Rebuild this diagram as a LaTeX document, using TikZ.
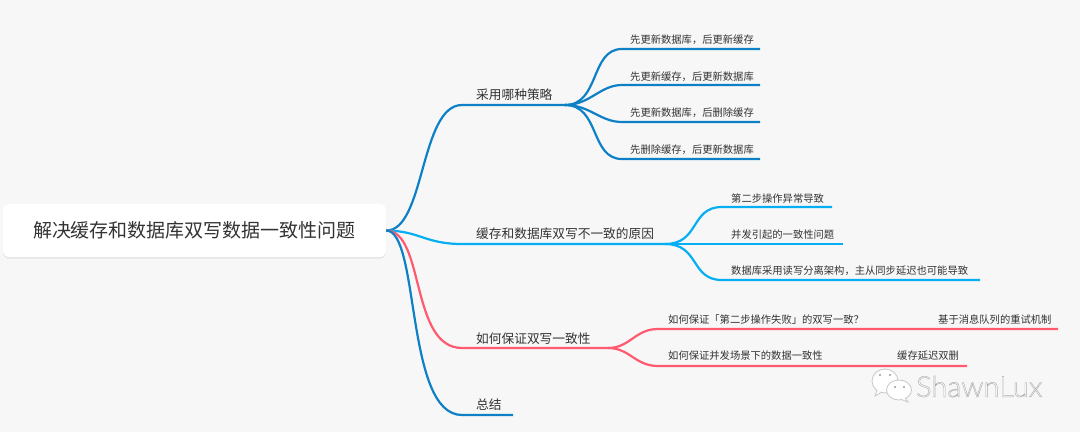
\documentclass[tikz,border=0pt]{standalone}
\usepackage{fontspec}
\setmainfont{Noto Sans CJK SC}
\newfontfamily\markfont{Lato Light}
\usetikzlibrary{shadows}
\definecolor{pagebg}{HTML}{F7F7F7}
\definecolor{inkgray}{HTML}{333333}
\definecolor{deepblue}{HTML}{0E80C6}
\definecolor{skyblue}{HTML}{06AEF2}
\definecolor{rosered}{HTML}{FF5A70}
\newcommand{\outlined}[1]{\special{pdf:code 2 Tr 0.45 w 0.68 G}#1\special{pdf:code 0 Tr}}
\tikzset{
    topic/.style={inner sep=0pt,anchor=west,text=inkgray,font=\fontsize{12.7}{14}\selectfont},
    leaf/.style={inner sep=0pt,anchor=west,text=inkgray,font=\fontsize{10.3}{12}\selectfont},
    bluewire/.style={draw=deepblue,line width=2.2pt},
    skywire/.style={draw=skyblue,line width=2.2pt},
    redwire/.style={draw=rosered,line width=2.2pt},
    bubble/.style={fill=white,draw=black!22,line width=0.8pt},
    eye/.style={fill=black!40},
}
\begin{document}
\begin{tikzpicture}[x=1pt,y=-1pt]
        \useasboundingbox (0,0) rectangle (1080,432);
        \fill[pagebg] (0,0) rectangle (1080,432);
        \node[fill=white,rounded corners=6pt,inner sep=0pt,minimum width=383pt,minimum height=53pt,
            drop shadow={shadow xshift=0pt,shadow yshift=-1.5pt,opacity=.08,fill=black},
            text=inkgray,font=\fontsize{19}{22}\selectfont] (root) at (194.5,230.5) {\raisebox{-1.5pt}{解决缓存和数据库双写数据一致性问题}};

        \coordinate(A) at (462,105);
        \coordinate(AE) at (565,105);
        \coordinate(A1) at (622,49);
        \coordinate(A1E) at (760,49);
        \coordinate(A2) at (622,85);
        \coordinate(A2E) at (760,85);
        \coordinate(A3) at (622,122);
        \coordinate(A3E) at (760,122);
        \coordinate(A4) at (622,159);
        \coordinate(A4E) at (760,159);
        \coordinate(B) at (462,244);
        \coordinate(BE) at (665,244);
        \coordinate(B1) at (722,207);
        \coordinate(B1E) at (832,207);
        \coordinate(B2E) at (843,244);
        \coordinate(B3) at (722,280);
        \coordinate(B3E) at (980,280);
        \coordinate(C) at (462,348);
        \coordinate(CE) at (608,348);
        \coordinate(C1) at (658,329);
        \coordinate(C1E) at (1058,329);
        \coordinate(C2) at (658,366);
        \coordinate(C2E) at (967,366);
        \coordinate(D) at (462,415);
        \coordinate(DE) at (513,415);

        \node[topic] (strategy) at (476,95) {采用哪种策略};
        \node[topic] (reason) at (476,234) {缓存和数据库双写不一致的原因};
        \node[topic] (ensure) at (476,338.5) {如何保证双写一致性};
        \node[topic] (summary) at (476,404.5) {总结};

        \node[leaf] (s1) at (630,39.5) {先更新数据库，后更新缓存};
        \node[leaf] (s2) at (630,76.5) {先更新缓存，后更新数据库};
        \node[leaf] (s3) at (630,112.5) {先更新数据库，后删除缓存};
        \node[leaf] (s4) at (630,149.5) {先删除缓存，后更新数据库};
        \node[leaf] (r1) at (731,198.5) {第二步操作异常导致};
        \node[leaf] (r2) at (731,234.5) {并发引起的一致性问题};
        \node[leaf] (r3) at (731,270.5) {数据库采用读写分离架构，主从同步延迟也可能导致};
        \node[leaf] (e1) at (668,319.5) {如何保证「第二步操作失败」的双写一致？};
        \node[leaf] (e2) at (668,355.5) {如何保证并发场景下的数据一致性};
        \node[leaf] (e1a) at (938,319.5) {基于消息队列的重试机制};
        \node[leaf] (e2a) at (897,355.5) {缓存延迟双删};

        \draw[bluewire] (root.east) .. controls (425,231) and (420,105) .. (A) -- (AE);
        \draw[bluewire] (AE) .. controls (600,105) and (590,49) .. (A1) -- (A1E);
        \draw[bluewire] (AE) .. controls (590,105) and (600,85) .. (A2) -- (A2E);
        \draw[bluewire] (AE) .. controls (590,105) and (600,122) .. (A3) -- (A3E);
        \draw[bluewire] (AE) .. controls (600,105) and (590,159) .. (A4) -- (A4E);

        \draw[skywire] (root.east) .. controls (420,231) and (425,244) .. (B) -- (BE);
        \draw[skywire] (BE) .. controls (700,244) and (690,207) .. (B1) -- (B1E);
        \draw[skywire] (BE) -- (B2E);
        \draw[skywire] (BE) .. controls (700,244) and (690,280) .. (B3) -- (B3E);

        \draw[redwire] (root.east) .. controls (425,231) and (410,348) .. (C) -- (CE);
        \draw[redwire] (CE) .. controls (630,348) and (635,329) .. (C1) -- (C1E);
        \draw[redwire] (CE) .. controls (630,348) and (635,366) .. (C2) -- (C2E);

        \draw[bluewire] (root.east) .. controls (420,231) and (405,415) .. (D) -- (DE);

        % watermark
        \draw[bubble] (885,381) ellipse (13pt and 12pt);
        \draw[bubble] (877,390) -- (875,396) -- (882,392);
        \draw[bubble] (899,390) ellipse (12.5pt and 10pt);
        \draw[bubble] (905,398) -- (908,402) -- (900,399);
        \fill[eye] (880,375) circle (1.2pt);
        \fill[eye] (890,375) circle (1.2pt);
        \fill[eye] (895,387) circle (1.2pt);
        \fill[eye] (904,387) circle (1.2pt);
        \node[inner sep=0pt,anchor=west,text=white,font=\markfont\fontsize{29}{31}\selectfont] (brand) at (916,386.5) {\outlined{ShawnLux}};
\end{tikzpicture}
\end{document}
